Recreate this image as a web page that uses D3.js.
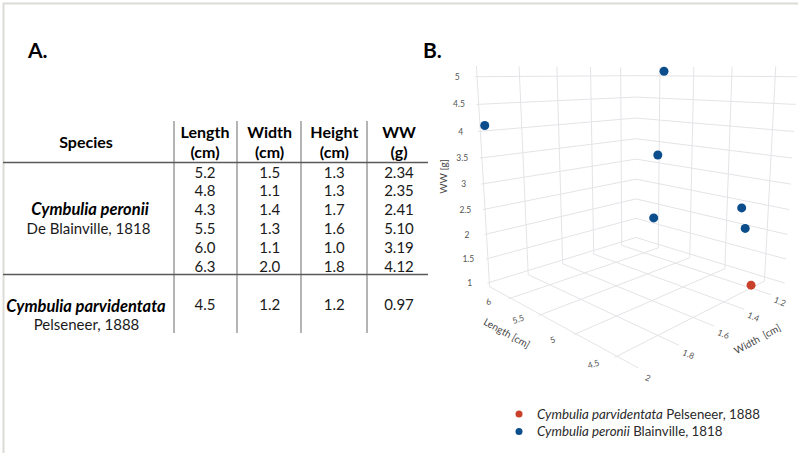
<!DOCTYPE html>
<html>
<head>
<meta charset="utf-8">
<script src="https://d3js.org/d3.v7.min.js"></script>
<style>
  body { margin: 0; background: #fff; }
  svg text { font-family: Lato, "Open Sans", sans-serif; }
</style>
</head>
<body>
<svg id="chart" width="798" height="453"></svg>
<script>
// ---- data
const columns = ["Length", "Width", "Height", "WW"];
const units = ["(cm)", "(cm)", "(cm)", "(g)"];

const peroniiLength = [5.2, 4.8, 4.3, 5.5, 6.0, 6.3];
const peroniiWidth  = [1.5, 1.1, 1.4, 1.3, 1.1, 2.0];
const peroniiHeight = [1.3, 1.3, 1.7, 1.6, 1.0, 1.8];
const peroniiWW     = [2.34, 2.35, 2.41, 5.10, 3.19, 4.12];

const parviLength = [4.5];
const parviWidth  = [1.2];
const parviHeight = [1.2];
const parviWW     = [0.97];

const lengthTicks = [4.5, 5, 5.5, 6];
const widthTicks  = [1.2, 1.4, 1.6, 1.8, 2];
const wwTicks     = [1, 1.5, 2, 2.5, 3, 3.5, 4, 4.5, 5];

const svg = d3.select("#chart");

// outer frame (top and left only)
svg.append("path")
   .attr("d", "M3.5,453V3.5H798")
   .attr("fill", "none")
   .attr("stroke", "#dcdcd7")
   .attr("stroke-width", 2);

// ================= A. table =================
svg.append("text").attr("x", 28).attr("y", 58)
   .attr("font-size", 21).attr("font-weight", "bold").text("A.");

const colX = d3.scalePoint().domain(columns).range([205, 399]);
const sepX = [174, 237, 301, 367];
const rowY = d3.scaleLinear().domain([0, 1]).range([177.5, 196.4]);
const fmt1 = d3.format(".1f"), fmt2 = d3.format(".2f");

const table = svg.append("g");

table.selectAll("line.sep")
  .data(sepX).enter().append("line")
  .attr("x1", d => d).attr("x2", d => d)
  .attr("y1", 121).attr("y2", 333)
  .attr("stroke", "#6b6b6b").attr("stroke-width", 1);

table.selectAll("line.hr")
  .data([162.5, 274.5]).enter().append("line")
  .attr("x1", 3).attr("x2", 428)
  .attr("y1", d => d).attr("y2", d => d)
  .attr("stroke", "#5a5a5a").attr("stroke-width", 1.3);

table.append("text").attr("x", 86).attr("y", 147.5)
  .attr("text-anchor", "middle").attr("font-size", 16).attr("font-weight", "bold")
  .text("Species");

columns.forEach((c, i) => {
  table.append("text").attr("x", colX(c)).attr("y", 137.5)
    .attr("text-anchor", "middle").attr("font-size", 16).attr("font-weight", "bold").text(c);
  table.append("text").attr("x", colX(c)).attr("y", 158)
    .attr("text-anchor", "middle").attr("font-size", 16).attr("font-weight", "bold").text(units[i]);
});

function addRows(lens, wids, hts, wws, y0) {
  lens.forEach((d, i) => {
    const y = y0(i);
    const vals = [fmt1(d), fmt1(wids[i]), fmt1(hts[i]), fmt2(wws[i])];
    vals.forEach((v, j) => {
      table.append("text").attr("x", colX(columns[j])).attr("y", y)
        .attr("text-anchor", "middle").attr("font-size", 15).attr("fill", "#1a1a1a").text(v);
    });
  });
}
addRows(peroniiLength, peroniiWidth, peroniiHeight, peroniiWW, rowY);
addRows(parviLength, parviWidth, parviHeight, parviWW, i => 310);

table.append("text").attr("x", 90).attr("y", 215)
  .attr("text-anchor", "middle").attr("font-size", 16.5)
  .attr("font-weight", "bold").attr("font-style", "italic").text("Cymbulia peronii");
table.append("text").attr("x", 88.5).attr("y", 234)
  .attr("text-anchor", "middle").attr("font-size", 15).attr("fill", "#1a1a1a").text("De Blainville, 1818");
table.append("text").attr("x", 86).attr("y", 311.5)
  .attr("text-anchor", "middle").attr("font-size", 16.5)
  .attr("font-weight", "bold").attr("font-style", "italic").text("Cymbulia parvidentata");
table.append("text").attr("x", 86.5).attr("y", 330)
  .attr("text-anchor", "middle").attr("font-size", 15).attr("fill", "#1a1a1a").text("Pelseneer, 1888");

// ================= B. 3D scatter =================
svg.append("text").attr("x", 423).attr("y", 58)
  .attr("font-size", 21).attr("font-weight", "bold").text("B.");

// data -> normalised box coordinates
const K = 1.03;
const xs = d3.scaleLinear().domain([6.39, 4.27]).range([-1, 1]);   // length
const ys = d3.scaleLinear().domain([1.09, 2.01]).range([-1, 1]);   // width
const zs = d3.scaleLinear().domain([0.91, 5.19]).range([-K, K]);   // WW

// simple perspective camera
const D = 4.82, phi = 11.7 * Math.PI / 180;
const sn = Math.sin(phi), cs = Math.cos(phi), F = 527.8;
const cx = 636, cy = 181.5;
function project(p) {
  const [x, y, z] = p;
  const r = (x - y) / Math.SQRT2;
  const u = -sn * (x + y) / Math.SQRT2 + cs * z;
  const e = cs * (x + y) / Math.SQRT2 + sn * z;
  const depth = D - e;
  return [cx + F * r / depth, cy - F * u / depth];
}

const plot = svg.append("g");
const gridColor = "#e4e4e8";

function seg(a, b) {
  const p = project(a), q = project(b);
  plot.append("line")
    .attr("x1", p[0]).attr("y1", p[1]).attr("x2", q[0]).attr("y2", q[1])
    .attr("stroke", gridColor).attr("stroke-width", 1);
}

// floor
lengthTicks.forEach(L => seg([xs(L), -1, -K], [xs(L), 1, -K]));
widthTicks.forEach(W => seg([-1, ys(W), -K], [1, ys(W), -K]));
// left wall (length = max)
widthTicks.forEach(W => seg([-1, ys(W), -K], [-1, ys(W), K]));
wwTicks.forEach(v => seg([-1, -1, zs(v)], [-1, 1, zs(v)]));
// right wall (width = min)
lengthTicks.forEach(L => seg([xs(L), -1, -K], [xs(L), -1, K]));
wwTicks.forEach(v => seg([-1, -1, zs(v)], [1, -1, zs(v)]));

const tickStyle = t => t.attr("font-family", "'Open Sans', sans-serif")
  .attr("font-size", 8.5).attr("fill", "#555").attr("text-anchor", "middle")
  .attr("dominant-baseline", "central");

// z ticks
plot.selectAll("text.zt").data(wwTicks).enter().append("text")
  .attr("x", d => project([-1, 1, zs(d)])[0] - 17.5)
  .attr("y", d => project([-1, 1, zs(d)])[1])
  .call(tickStyle).text(d => d);

// length ticks
plot.selectAll("text.lt").data(lengthTicks).enter().append("text")
  .attr("transform", d => {
    const p = project([xs(d), 1.2, -K]);
    return `translate(${p[0]},${p[1] - 4}) rotate(-18)`;
  })
  .call(tickStyle).text(d => d);

// width ticks
plot.selectAll("text.wt").data(widthTicks).enter().append("text")
  .attr("transform", d => {
    const p = project([1.12, ys(d), -K]);
    return `translate(${p[0] - 3},${p[1] + 3}) rotate(22)`;
  })
  .call(tickStyle).text(d => d);

// axis titles
function angle(a, b) {
  const p = project(a), q = project(b);
  return Math.atan2(q[1] - p[1], q[0] - p[0]) * 180 / Math.PI;
}
const titleStyle = t => t.attr("font-family", "'Open Sans', sans-serif")
  .attr("font-size", 10).attr("fill", "#444").attr("text-anchor", "middle")
  .attr("dominant-baseline", "central");

let m = project([-1, 1, 0]);
plot.append("text")
  .attr("transform", `translate(${m[0] - 38},${m[1] - 5}) rotate(-90)`)
  .call(titleStyle).text("WW [g]");

m = project([0, 1, -K]);
plot.append("text")
  .attr("transform", `translate(${m[0] - 43},${m[1] + 11}) rotate(${angle([-1, 1, -K], [1, 1, -K])})`)
  .call(titleStyle).text("Length [cm]");

m = project([1, 0, -K]);
plot.append("text")
  .attr("transform", `translate(${m[0] + 35},${m[1] + 17}) rotate(${angle([1, 1, -K], [1, -1, -K])})`)
  .call(titleStyle).text("Width  [cm]").attr("xml:space", "preserve");

// points
const blue = "#0c4d8c", red = "#c9402b";
const pts = peroniiLength.map((L, i) => ({ L, W: peroniiWidth[i], V: peroniiWW[i], c: blue }))
  .concat(parviLength.map((L, i) => ({ L, W: parviWidth[i], V: parviWW[i], c: red })));

plot.selectAll("circle.pt").data(pts).enter().append("circle")
  .attr("cx", d => project([xs(d.L), ys(d.W), zs(d.V)])[0])
  .attr("cy", d => project([xs(d.L), ys(d.W), zs(d.V)])[1])
  .attr("r", 4.5)
  .attr("fill", d => d.c);

// legend
const legend = [
  { name: "Cymbulia parvidentata", author: " Pelseneer, 1888", c: red },
  { name: "Cymbulia peronii", author: " Blainville, 1818", c: blue }
];
const lg = svg.append("g").selectAll("g").data(legend).enter().append("g")
  .attr("transform", (d, i) => `translate(519,${414 + i * 17.5})`);
lg.append("circle").attr("r", 3.5).attr("fill", d => d.c);
const lt = lg.append("text").attr("x", 18).attr("y", 4.5)
  .attr("font-size", 13.3).attr("fill", "#2a2a2a");
lt.append("tspan").attr("font-style", "italic").text(d => d.name);
lt.append("tspan").attr("xml:space", "preserve").text(d => d.author);
</script>
</body>
</html>
